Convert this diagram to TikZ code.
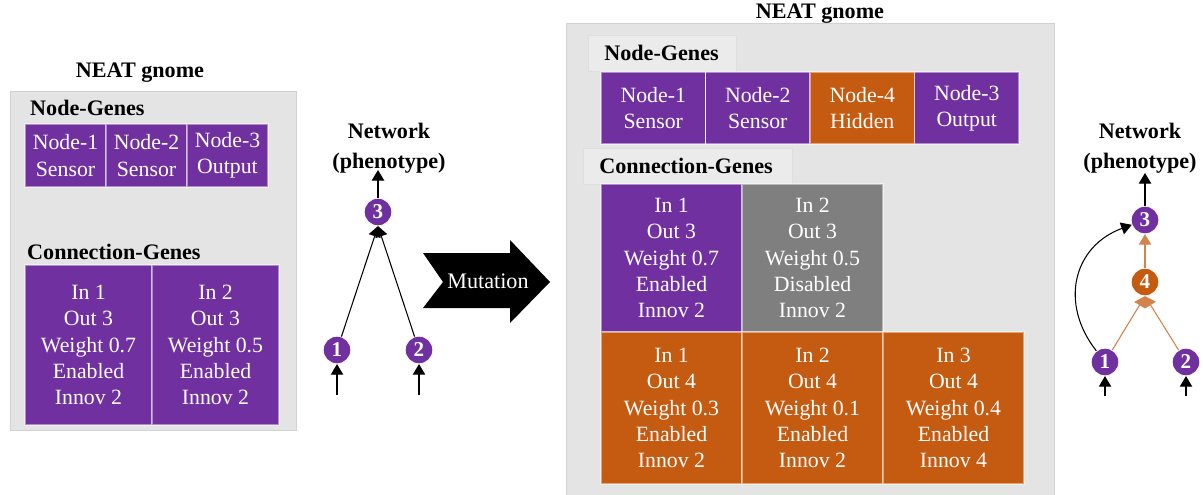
\documentclass[tikz,border=0pt]{standalone}
\usepackage{fontspec}
\setmainfont{Liberation Serif}
\usepackage{tikz}
\usetikzlibrary{arrows.meta}

\definecolor{genepurple}{HTML}{7030A0}
\definecolor{geneorange}{HTML}{C55A11}
\definecolor{genegray}{HTML}{7F7F7F}
\definecolor{panelgray}{HTML}{E4E4E4}
\definecolor{panelline}{HTML}{D2D2D2}

\begin{document}
\begin{tikzpicture}[x=0.02cm, y=-0.02cm,
    gene/.style={draw=white, draw opacity=0.45, line width=0.6pt, text=white, align=center,
        inner sep=0pt, outer sep=0pt, font=\fontsize{12.4}{15}\selectfont},
    title/.style={font=\fontsize{12.6}{15}\selectfont\bfseries},
    labelbox/.style={fill=panelgray!75!white, draw=panelline!70!white, line width=0.4pt, align=left,
        minimum height=0.72cm, inner xsep=0.32cm, anchor=west, font=\fontsize{12.6}{15}\selectfont\bfseries},
    neuron/.style={circle, draw=white, line width=0.4pt, fill=genepurple, text=white,
        minimum size=0.55cm, inner sep=0pt, font=\fontsize{12}{12}\selectfont\bfseries},
    arr/.style={-{Triangle[width=7pt,length=6pt]}, line width=0.6pt},
    newarr/.style={arr, draw=geneorange!75!white, fill=geneorange}]

    \useasboundingbox (0, 0) rectangle (1203, 494);

    % left genome
    \draw[fill=panelgray, draw=panelline] (10, 91) rectangle (296, 430);
    \node[title] at (140, 73) (titleL) {NEAT gnome};
    \node[title, anchor=west] at (24, 108) (nodelabL) {Node-Genes};
    \node[gene, fill=genepurple, minimum width=1.62cm, minimum height=1.26cm] at (65.5, 155.5) (ng1L) {Node-1\\Sensor};
    \node[gene, fill=genepurple, minimum width=1.62cm, minimum height=1.26cm] at (146.5, 155.5) (ng2L) {Node-2\\Sensor};
    \node[gene, fill=genepurple, minimum width=1.62cm, minimum height=1.26cm] at (227.5, 155.5) (ng3L) {Node-3\\Output};

    \node[title, anchor=west] at (21, 252) (conlabL) {Connection-Genes};
    \node[gene, fill=genepurple, minimum width=2.54cm, minimum height=3.2cm] at (88.5, 345) (cg1L) {In 1\\Out 3\\Weight 0.7\\Enabled\\Innov 2};
    \node[gene, fill=genepurple, minimum width=2.54cm, minimum height=3.2cm] at (215.5, 345) (cg2L) {In 2\\Out 3\\Weight 0.5\\Enabled\\Innov 2};

    % left network
    \node[title, align=center, font=\fontsize{12.6}{17}\selectfont\bfseries] at (389, 148) (netL) {Network\\(phenotype)};
    \node[neuron] at (378, 212) (n3L) {3};
    \node[neuron] at (337, 350) (n1L) {1};
    \node[neuron] at (419, 350) (n2L) {2};
    \coordinate (outL) at (378, 170);
    \coordinate (in1L) at (337, 395);
    \coordinate (in2L) at (419, 395);

    \draw[arr] (n1L) -- (n3L.south);
    \draw[arr] (n2L) -- (n3L.south);
    \draw[arr] (n3L) -- (outL);
    \draw[arr] (in1L) -- (n1L);
    \draw[arr] (in2L) -- (n2L);

    % mutation arrow
    \fill[black] (423, 253) -- (510, 253) -- (510, 240) -- (550, 282) -- (510, 323)
        -- (510, 308) -- (423, 308) -- (443, 282) -- cycle;
    \node[text=white, font=\fontsize{12.6}{15}\selectfont] at (488, 281) (mutation) {Mutation};

    % right genome
    \draw[fill=panelgray, draw=panelline] (566, 23) rectangle (1054, 497);
    \node[title] at (820, 14) (titleR) {NEAT gnome};
    \node[labelbox, text width=2.32cm] at (588, 53) (nodelabR) {Node-Genes};
    \node[gene, fill=genepurple, minimum width=2.09cm, minimum height=1.44cm] at (653.25, 108) (ng1R) {Node-1\\Sensor};
    \node[gene, fill=genepurple, minimum width=2.09cm, minimum height=1.44cm] at (757.75, 108) (ng2R) {Node-2\\Sensor};
    \node[gene, fill=geneorange, minimum width=2.09cm, minimum height=1.44cm] at (862.25, 108) (ng4R) {Node-4\\Hidden};
    \node[gene, fill=genepurple, minimum width=2.09cm, minimum height=1.44cm] at (966.75, 108) (ng3R) {Node-3\\Output};

    \node[labelbox, text width=3.54cm, inner xsep=0.32cm] at (583, 166) (conlabR) {Connection-Genes};
    \node[gene, fill=genepurple, minimum width=2.82cm, minimum height=2.96cm] at (671.5, 258) (cg1R) {In 1\\Out 3\\Weight 0.7\\Enabled\\Innov 2};
    \node[gene, fill=genegray, minimum width=2.82cm, minimum height=2.96cm] at (812.5, 258) (cg2R) {In 2\\Out 3\\Weight 0.5\\Disabled\\Innov 2};
    \node[gene, fill=geneorange, minimum width=2.82cm, minimum height=3.04cm] at (671.5, 408) (cg3R) {In 1\\Out 4\\Weight 0.3\\Enabled\\Innov 2};
    \node[gene, fill=geneorange, minimum width=2.82cm, minimum height=3.04cm] at (812.5, 408) (cg4R) {In 2\\Out 4\\Weight 0.1\\Enabled\\Innov 2};
    \node[gene, fill=geneorange, minimum width=2.82cm, minimum height=3.04cm] at (953.5, 408) (cg5R) {In 3\\Out 4\\Weight 0.4\\Enabled\\Innov 4};

    % right network
    \node[title, align=center, font=\fontsize{12.6}{17}\selectfont\bfseries] at (1140, 148) (netR) {Network\\(phenotype)};
    \node[neuron] at (1145, 220) (n3R) {3};
    \node[neuron, fill=geneorange] at (1145, 282) (n4R) {4};
    \node[neuron] at (1105, 362) (n1R) {1};
    \node[neuron] at (1186, 362) (n2R) {2};
    \coordinate (outR) at (1145, 173);
    \coordinate (in1R) at (1105, 396);
    \coordinate (in2R) at (1186, 396);

    \draw[newarr] (n1R) -- (n4R.south);
    \draw[newarr] (n2R) -- (n4R.south);
    \draw[newarr] (n4R) -- (n3R);
    \draw[arr] (n1R) to[out=128, in=200, looseness=1.2] (n3R);
    \draw[arr] (n3R) -- (outR);
    \draw[arr] (in1R) -- (n1R);
    \draw[arr] (in2R) -- (n2R);
\end{tikzpicture}
\end{document}
